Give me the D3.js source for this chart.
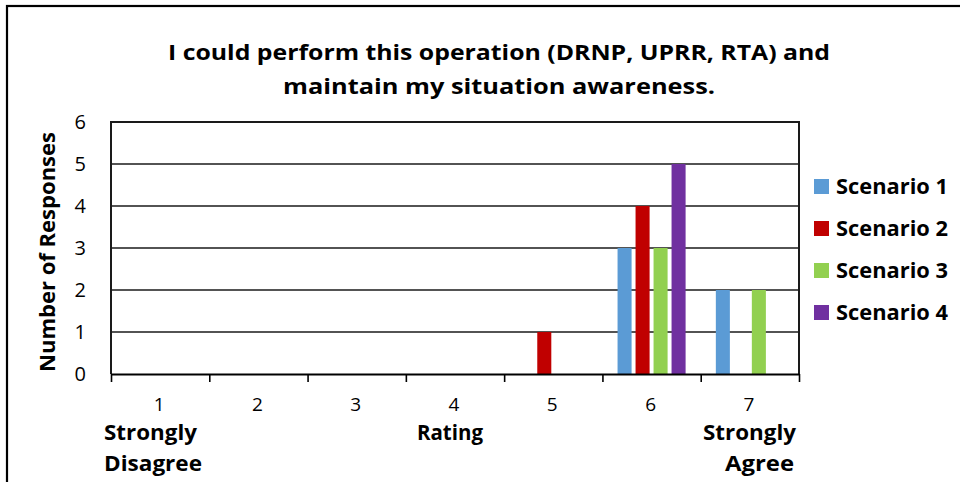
<!DOCTYPE html>
<html>
<head>
<meta charset="utf-8">
<script src="https://cdn.jsdelivr.net/npm/d3@7"></script>
<style>
  body { margin: 0; background: #fff; }
  svg { display: block; font-family: "Open Sans", "Noto Sans", sans-serif; }
</style>
</head>
<body>
<div id="chart"></div>
<script>
const ratings = ["1", "2", "3", "4", "5", "6", "7"];
const seriesNames = ["Scenario 1", "Scenario 2", "Scenario 3", "Scenario 4"];
const scenario1 = [0, 0, 0, 0, 0, 3, 2];
const scenario2 = [0, 0, 0, 0, 1, 4, 0];
const scenario3 = [0, 0, 0, 0, 0, 3, 2];
const scenario4 = [0, 0, 0, 0, 0, 5, 0];
const yTicks = [0, 1, 2, 3, 4, 5, 6];
const colors = ["#5b9bd5", "#c00000", "#92d050", "#7030a0"];
const titleLines = ["I could perform this operation (DRNP, UPRR, RTA) and", "maintain my situation awareness."];

const W = 960, H = 482;
const margin = {top: 122, right: 161, bottom: 108, left: 111},
    width = W - margin.left - margin.right,
    height = H - margin.top - margin.bottom;

const allSeries = [scenario1, scenario2, scenario3, scenario4];
const data = ratings.map((r, i) => {
    const o = {rating: r};
    seriesNames.forEach((s, j) => o[s] = allSeries[j][i]);
    return o;
});

const svgRoot = d3.select("#chart").append("svg")
    .attr("width", W).attr("height", H);

// outer frame (only left/top edges fall inside the picture)
svgRoot.append("rect")
    .attr("x", 7).attr("y", 6)
    .attr("width", W + 10).attr("height", H + 10)
    .attr("fill", "none").attr("stroke", "#000").attr("stroke-width", 2.2);

svgRoot.append("g")
    .selectAll("text")
    .data(titleLines)
    .enter().append("text")
    .attr("x", 499).attr("y", (d, i) => 60 + i * 34)
    .attr("text-anchor", "middle")
    .attr("font-size", 22)
    .attr("font-weight", "bold")
    .attr("textLength", (d, i) => i === 0 ? 662 : 432)
    .attr("lengthAdjust", "spacingAndGlyphs")
    .text(d => d);

const svg = svgRoot.append("g")
    .attr("transform", "translate(" + margin.left + "," + margin.top + ")");

const x0 = d3.scaleBand().domain(ratings).range([0, width]).padding(0);
const x1 = d3.scaleBand().domain(seriesNames).range([0, x0.bandwidth()])
    .paddingInner(0.22).paddingOuter(0.84);
const y = d3.scaleLinear().domain([0, 6]).range([height, 0]);
const color = d3.scaleOrdinal().domain(seriesNames).range(colors);

// gridlines
svg.append("g")
    .selectAll("line")
    .data(yTicks.filter(t => t > 0))
    .enter().append("line")
    .attr("x1", 0).attr("x2", width)
    .attr("y1", d => y(d)).attr("y2", d => y(d))
    .attr("stroke", "#1a1a1a").attr("stroke-width", 1.6);

// bars
svg.append("g")
    .selectAll("g")
    .data(data)
    .enter().append("g")
    .attr("transform", d => "translate(" + x0(d.rating) + ",0)")
    .selectAll("rect")
    .data(d => seriesNames.map(k => ({key: k, value: d[k]})).filter(v => v.value > 0))
    .enter().append("rect")
    .attr("x", d => x1(d.key))
    .attr("y", d => y(d.value))
    .attr("width", x1.bandwidth())
    .attr("height", d => y(0) - y(d.value))
    .attr("fill", d => color(d.key));

// plot border: left, top, right
svg.append("path")
    .attr("d", "M0," + height + "V0H" + width + "V" + height)
    .attr("fill", "none").attr("stroke", "#1a1a1a").attr("stroke-width", 2);

// x axis
const xTick = d3.scaleLinear().domain([0, ratings.length]).range([0, width]);
const xAxis = svg.append("g")
    .attr("transform", "translate(0," + height + ")")
    .call(d3.axisBottom(xTick).ticks(7).tickSize(8).tickSizeOuter(0).tickFormat(""));
xAxis.select(".domain").attr("stroke", "#000").attr("stroke-width", 2.2);
xAxis.selectAll(".tick line").attr("stroke", "#000").attr("stroke-width", 1.6);

svg.append("g")
    .selectAll("text")
    .data(ratings)
    .enter().append("text")
    .attr("x", d => x0(d) + x0.bandwidth() / 2 - 1)
    .attr("y", height + 37)
    .attr("text-anchor", "middle")
    .attr("font-size", 19)
    .text(d => d);

// y axis labels
svg.append("g")
    .selectAll("text")
    .data(yTicks)
    .enter().append("text")
    .attr("x", -25)
    .attr("y", d => y(d) + 7)
    .attr("text-anchor", "end")
    .attr("font-size", 20)
    .text(d => d);

// axis titles
function label(txt, xPos, yPos, anchor, len) {
    svgRoot.append("text")
        .attr("x", xPos).attr("y", yPos)
        .attr("text-anchor", anchor)
        .attr("font-size", 21)
        .attr("font-weight", "bold")
        .attr("textLength", len)
        .attr("lengthAdjust", "spacingAndGlyphs")
        .text(txt);
}
label("Strongly", 104, 440, "start", 93);
label("Disagree", 104, 471, "start", 98);
label("Rating", 450, 440, "middle", 66);
label("Strongly", 796, 440, "end", 93);
label("Agree", 794, 471, "end", 69);

svgRoot.append("text")
    .attr("transform", "translate(55,252) rotate(-90)")
    .attr("text-anchor", "middle")
    .attr("font-size", 21)
    .attr("font-weight", "bold")
    .attr("textLength", 240)
    .attr("lengthAdjust", "spacingAndGlyphs")
    .text("Number of Responses");

// legend
const legend = svgRoot.append("g")
    .selectAll("g")
    .data(seriesNames)
    .enter().append("g")
    .attr("transform", (d, i) => "translate(814," + (186.5 + i * 42) + ")");
legend.append("rect")
    .attr("x", 0).attr("y", -7.5)
    .attr("width", 15).attr("height", 15)
    .attr("fill", d => color(d));
legend.append("text")
    .attr("x", 22).attr("y", 7.5)
    .attr("font-size", 21)
    .attr("font-weight", "bold")
    .attr("textLength", 112)
    .attr("lengthAdjust", "spacingAndGlyphs")
    .text(d => d);
</script>
</body>
</html>
